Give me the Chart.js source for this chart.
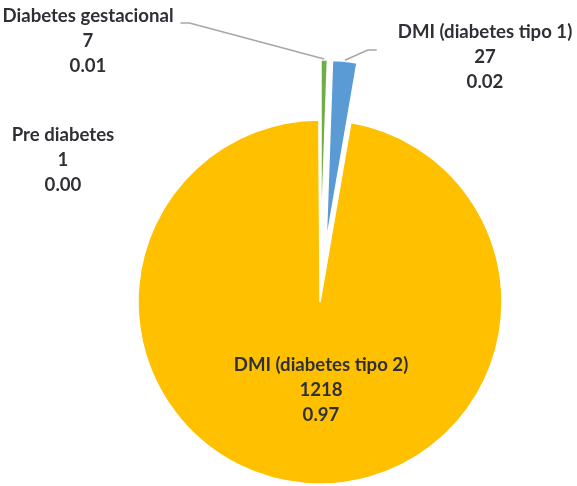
<!DOCTYPE html>
<html>
<head>
<meta charset="utf-8">
<script src="https://cdn.jsdelivr.net/npm/chart.js@4.4.1/dist/chart.umd.min.js"></script>
<style>
  html, body { margin: 0; padding: 0; background: #fff; }
  #wrap { width: 577px; height: 486px; position: relative; }
</style>
</head>
<body>
<div id="wrap"><canvas id="pieChart"></canvas></div>
<script>
// data
const categories = ["DMI (diabetes tipo 1)", "DMI (diabetes tipo 2)", "Pre diabetes", "Diabetes gestacional"];
const counts = [27, 1218, 1, 7];
const sliceColors = ["#5B9BD5", "#FFC000", "#A5A5A5", "#70AD47"];

// how far each slice is pulled out of the pie (px)
const explode = [60, 0, 60, 60];

// where each label sits: centre x, y of the first line, leader line details
const lineGap = 25;
const labelLayout = [
  { x: 485, y: 32, leader: "left", lineY: 50, gap: 21, elbow: 9 },
  { x: 321, y: 365 },
  { x: 63, y: 135 },
  { x: 88, y: 16, leader: "right", lineY: 23, gap: 7, elbow: 9 },
];

// move exploded slices outward along their mid angle
const explodePlugin = {
  id: "explode",
  afterDatasetsUpdate(chart) {
    const arcs = chart.getDatasetMeta(0).data;
    arcs.forEach((arc, i) => {
      const mid = (arc.startAngle + arc.endAngle) / 2;
      arc.x += Math.cos(mid) * explode[i];
      arc.y += Math.sin(mid) * explode[i];
    });
  },
};

// excel style data labels: name, value, share
const labelPlugin = {
  id: "sliceLabels",
  afterDatasetsDraw(chart) {
    const ctx = chart.ctx;
    const arcs = chart.getDatasetMeta(0).data;
    const total = counts.reduce((a, b) => a + b, 0);
    ctx.save();
    ctx.font = "bold 18.6px Lato";
    ctx.textAlign = "center";
    ctx.textBaseline = "middle";
    arcs.forEach((arc, i) => {
      const lay = labelLayout[i];
      const lines = [categories[i], String(counts[i]), (counts[i] / total).toFixed(2)];
      ctx.fillStyle = "#2f3036";
      lines.forEach((t, k) => ctx.fillText(t, lay.x, lay.y + k * lineGap));

      if (lay.leader) {
        const w = ctx.measureText(categories[i]).width;
        const mid = (arc.startAngle + arc.endAngle) / 2;
        const r = arc.outerRadius + 1;
        const ax = arc.x + Math.cos(mid) * r;
        const ay = arc.y + Math.sin(mid) * r;
        let hx1, hx2;
        if (lay.leader === "right") {
          hx1 = lay.x + w / 2 + lay.gap;
          hx2 = hx1 + lay.elbow;
        } else {
          hx1 = lay.x - w / 2 - lay.gap;
          hx2 = hx1 - lay.elbow;
        }
        ctx.strokeStyle = "#A6A6A6";
        ctx.lineWidth = 1.5;
        ctx.beginPath();
        ctx.moveTo(hx1, lay.lineY);
        ctx.lineTo(hx2, lay.lineY);
        ctx.lineTo(ax, ay);
        ctx.stroke();
      }
    });
    ctx.restore();
  },
};

const ctx = document.getElementById("pieChart").getContext("2d");
new Chart(ctx, {
  type: "pie",
  data: {
    labels: categories,
    datasets: [
      {
        data: counts,
        backgroundColor: sliceColors,
        borderColor: "#ffffff",
        borderWidth: 1.5,
      },
    ],
  },
  options: {
    responsive: true,
    maintainAspectRatio: false,
    animation: false,
    events: [],
    rotation: 2,
    radius: 182,
    layout: { padding: { left: 63, top: 118, right: 0, bottom: 0 } },
    plugins: {
      legend: { display: false },
      tooltip: { enabled: false },
    },
  },
  plugins: [explodePlugin, labelPlugin],
});
</script>
</body>
</html>
